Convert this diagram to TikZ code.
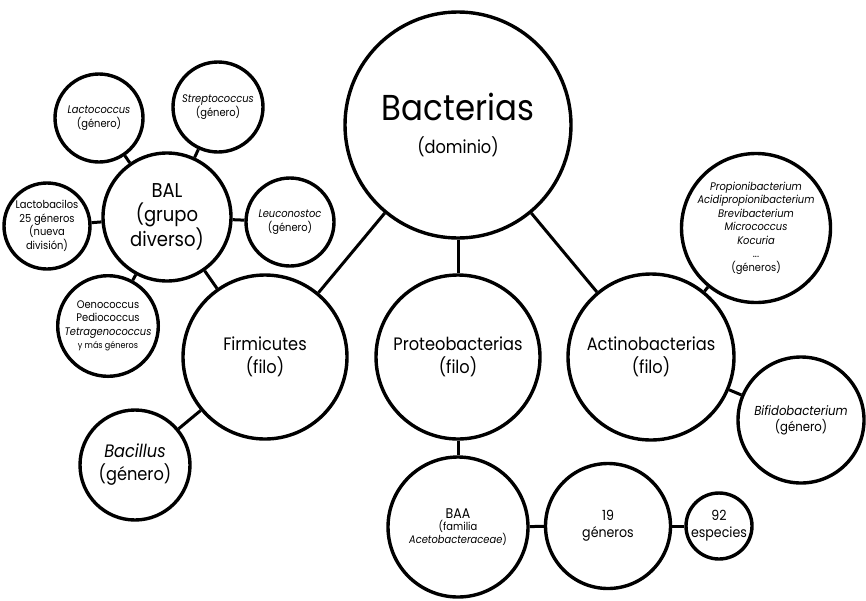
\documentclass[tikz,border=0pt]{standalone}
\usepackage{fontspec}
\setmainfont[FakeStretch=0.9]{Poppins}
\usetikzlibrary{positioning}

\tikzset{
  bubble/.style={circle,draw,line width=3.4pt,inner sep=0pt,align=center,minimum size=#1},
  link/.style={line width=3pt},
  big/.style={font=\fontsize{18}{23}\selectfont},
  mid/.style={font=\fontsize{14}{17}\selectfont},
  small/.style={font=\fontsize{11}{13.5}\selectfont}
}

\begin{document}
\begin{tikzpicture}[x=1pt,y=-1pt]
	\useasboundingbox (0,0) rectangle (866,600);

	% dominio y filos
	\node[bubble=226pt] (bact) at (458,125) {{\fontsize{36}{40}\selectfont Bacterias}\\[14pt]{\fontsize{18}{22}\selectfont (dominio)}};
	\node[bubble=164pt,big] (firm) at (265,357) {Firmicutes\\(filo)};
	\node[bubble=164pt,big] (prot) at (458,357) {Proteobacterias\\(filo)};
	\node[bubble=166pt,big] (acti) at (651,357) {Actinobacterias\\(filo)};

	% Firmicutes
	\node[bubble=128pt,font=\fontsize{20}{24}\selectfont] (bal) at (167,217) {BAL\\(grupo\\diverso)};
	\node[bubble=110pt,big] (baci) at (135,465) {\textit{Bacillus}\\(género)};
	\node[bubble=88pt,small] (lcoc) at (99,118) {\textit{Lactococcus}\\(género)};
	\node[bubble=90pt,small] (strep) at (218,107) {\textit{Streptococcus}\\(género)};
	\node[bubble=88pt,small] (leuc) at (290,222) {\textit{Leuconostoc}\\(género)};
	\node[bubble=86pt,small] (lbac) at (47,226) {Lactobacilos\\25 géneros\\(nueva\\división)};
	\node[bubble=88pt,small] (oeno) at (108,326) {Oenococcus\\Pediococcus\\\textit{Tetragenococcus}\\{\fontsize{9}{11}\selectfont y más géneros}};

	% Proteobacterias
	\node[bubble=140pt] (baa) at (458,527) {{\fontsize{14}{17}\selectfont BAA}\\{\fontsize{11}{13}\selectfont (familia}\\{\fontsize{11}{13}\selectfont\textit{Acetobacteraceae})}};
	\node[bubble=125pt,mid] (gen) at (608,526) {19\\géneros};
	\node[bubble=66pt,mid] (esp) at (719,526) {92\\especies};

	% Actinobacterias
	\node[bubble=142pt,small] (prop) at (756,228) {\textit{Propionibacterium}\\\textit{Acidipropionibacterium}\\\textit{Brevibacterium}\\\textit{Micrococcus}\\\textit{Kocuria}\\...\\(géneros)};
	\node[bubble=126pt,font=\fontsize{13}{16}\selectfont] (bifi) at (801,420) {\textit{Bifidobacterium}\\(género)};

	\draw[link] (bact) -- (firm);
	\draw[link] (bact) -- (prot);
	\draw[link] (bact) -- (acti);
	\draw[link] (firm) -- (bal);
	\draw[link] (firm) -- (baci);
	\draw[link] (bal) -- (lcoc);
	\draw[link] (bal) -- (strep);
	\draw[link] (bal) -- (leuc);
	\draw[link] (bal) -- (lbac);
	\draw[link] (bal) -- (oeno);
	\draw[link] (prot) -- (baa);
	\draw[link] (baa) -- (gen);
	\draw[link] (gen) -- (esp);
	\draw[link] (acti) -- (prop);
	\draw[link] (acti) -- (bifi);

\end{tikzpicture}
\end{document}
